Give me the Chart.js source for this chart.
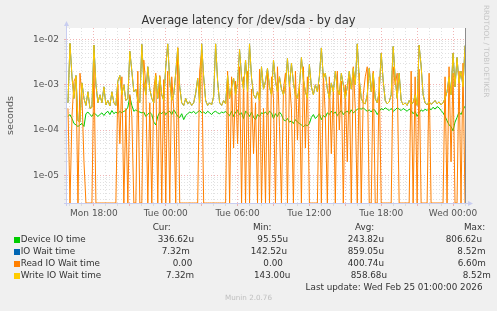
<!DOCTYPE html>
<html><head><meta charset="utf-8">
<script src="https://cdn.jsdelivr.net/npm/chart.js@4/dist/chart.umd.min.js"></script>
<style>
html,body{margin:0;padding:0;background:#f0f0f0;}
#wrap{position:relative;width:497px;height:311px;overflow:hidden;font-family:"DejaVu Sans",sans-serif;}
#c{position:absolute;left:0;top:0;}
.t{position:absolute;white-space:pre;color:#333;font-size:8.8px;line-height:10px;}
.sq{position:absolute;width:6px;height:6px;}
#title{position:absolute;left:0;width:497px;top:13px;text-align:center;font-size:11.4px;line-height:14px;color:#333;}
#munin{position:absolute;left:0;width:497px;top:293px;text-align:center;font-size:7.2px;line-height:10px;color:#c0c0c0;}
#rrd{position:absolute;left:490px;top:5px;font-size:7.2px;line-height:8px;color:#c4c4c4;transform-origin:0 0;transform:rotate(90deg);white-space:pre;}
</style></head><body>
<div id="wrap">
<canvas id="c" width="497" height="311"></canvas>
<div id="title">Average latency for /dev/sda - by day</div>
<div id="rrd">RRDTOOL / TOBI OETIKER</div>
<div id="munin">Munin 2.0.76</div>
</div>
<script>
// ---- data (seconds), one point every 10 minutes from Mon 15:50 to Wed 01:00 ----
const startHour = 15 + 50 / 60;   // hours since Mon 00:00
const stepHours = 10 / 60;

const deviceIO = [
2.0e-4,2.2e-4,1.8e-4,1.4e-4,1.3e-4,1.2e-4,1.3e-4,1.4e-4,1.2e-4,2.3e-4,
2.5e-4,2.2e-4,2.0e-4,2.4e-4,2.2e-4,2.0e-4,2.2e-4,2.4e-4,2.1e-4,2.4e-4,
2.6e-4,2.2e-4,2.7e-4,2.3e-4,2.5e-4,2.3e-4,2.6e-4,2.4e-4,2.6e-4,2.7e-4,
3.2e-4,5.5e-4,3.5e-4,2.6e-4,2.8e-4,2.6e-4,2.5e-4,2.4e-4,2.5e-4,2.0e-4,
2.2e-4,2.5e-4,2.2e-4,1.5e-4,1.3e-4,2.0e-4,2.5e-4,2.3e-4,2.6e-4,2.2e-4,
2.5e-4,2.6e-4,2.2e-4,2.8e-4,2.4e-4,2.0e-4,1.9e-4,2.3e-4,1.7e-4,2.1e-4,
2.3e-4,2.5e-4,2.4e-4,2.6e-4,2.3e-4,2.5e-4,2.7e-4,2.4e-4,2.5e-4,2.3e-4,
2.6e-4,2.4e-4,2.2e-4,2.5e-4,2.6e-4,2.4e-4,2.3e-4,2.5e-4,2.4e-4,2.6e-4,
2.3e-4,2.1e-4,2.6e-4,2.0e-4,2.5e-4,2.7e-4,2.2e-4,2.4e-4,1.8e-4,2.6e-4,
2.4e-4,2.0e-4,2.5e-4,1.9e-4,1.7e-4,2.2e-4,2.0e-4,2.4e-4,2.3e-4,2.5e-4,
2.2e-4,2.6e-4,2.4e-4,1.8e-4,2.3e-4,2.0e-4,2.5e-4,2.2e-4,1.7e-4,1.6e-4,
1.8e-4,1.5e-4,1.6e-4,1.4e-4,1.7e-4,1.5e-4,1.4e-4,1.3e-4,1.2e-4,1.3e-4,
1.25e-4,1.4e-4,1.9e-4,2.2e-4,1.8e-4,2.0e-4,2.3e-4,1.7e-4,2.1e-4,1.9e-4,
2.4e-4,2.2e-4,2.6e-4,2.3e-4,2.5e-4,2.1e-4,2.4e-4,2.7e-4,2.2e-4,2.5e-4,
2.6e-4,2.3e-4,2.8e-4,2.4e-4,2.6e-4,2.9e-4,3.0e-4,2.9e-4,3.1e-4,2.8e-4,
2.6e-4,2.8e-4,2.5e-4,2.9e-4,2.7e-4,2.2e-4,2.6e-4,3.0e-4,2.8e-4,3.1e-4,
2.9e-4,2.7e-4,3.0e-4,2.6e-4,2.8e-4,3.1e-4,2.9e-4,2.7e-4,3.0e-4,2.8e-4,
2.6e-4,2.9e-4,2.7e-4,2.3e-4,2.6e-4,2.0e-4,2.4e-4,2.8e-4,2.6e-4,2.9e-4,
2.7e-4,3.0e-4,2.8e-4,3.2e-4,2.9e-4,3.3e-4,3.1e-4,2.7e-4,2.4e-4,2.0e-4,
1.6e-4,1.3e-4,1.2e-4,9.6e-5,1.5e-4,1.9e-4,2.5e-4,2.2e-4,2.8e-4,3.37e-4
];

const writeWait = [
4.0e-4,8.2e-3,1.5e-3,5.0e-4,1.6e-3,1.6e-4,1.5e-4,1.1e-3,5.0e-4,3.5e-4,
7.0e-4,3.0e-4,3.2e-4,7.5e-3,1.0e-3,4.0e-4,6.0e-4,4.0e-4,9.0e-4,3.6e-4,
4.5e-4,3.4e-4,7.0e-4,4.0e-4,3.5e-4,1.2e-3,1.6e-3,6.0e-4,1.0e-3,4.5e-4,
5.0e-4,5.5e-3,2.0e-3,7.0e-4,8.0e-4,4.5e-4,4.0e-4,7.8e-3,1.2e-3,6.0e-4,
2.5e-3,8.0e-4,5.0e-4,4.0e-4,1.6e-3,5.0e-4,1.5e-3,6.0e-4,4.5e-4,2.5e-3,
8.0e-3,1.2e-3,4.5e-4,6.0e-4,1.8e-3,6.5e-3,9.0e-4,4.0e-4,3.5e-4,5.0e-4,
3.8e-4,4.2e-4,3.5e-4,4.0e-4,6.5e-4,1.4e-3,4.0e-4,8.0e-3,1.5e-3,4.5e-4,
3.5e-4,4.0e-4,3.6e-4,5.5e-4,8.0e-3,1.2e-3,4.0e-4,3.5e-4,4.5e-4,3.8e-4,
1.6e-3,5.0e-4,9.0e-4,1.4e-3,6.0e-4,1.1e-3,6.0e-3,1.5e-3,8.0e-4,3.5e-3,
7.0e-4,8.0e-3,1.4e-3,6.0e-4,5.0e-4,7.0e-4,4.5e-4,2.5e-3,8.0e-4,1.2e-3,
2.3e-3,9.0e-4,6.0e-4,3.5e-3,1.2e-3,7.0e-4,1.5e-3,8.0e-4,6.0e-4,1.0e-3,
3.8e-3,9.0e-4,3.0e-3,1.1e-3,6.0e-4,5.0e-4,9.0e-4,4.0e-3,1.3e-3,7.0e-4,
5.0e-4,2.8e-3,9.0e-4,6.0e-4,1.0e-3,7.0e-4,1.5e-3,6.5e-3,1.4e-3,1.8e-3,
8.0e-4,5.0e-4,1.1e-3,7.0e-4,2.0e-3,8.0e-4,6.0e-4,1.8e-3,1.0e-3,5.0e-4,
9.0e-4,2.0e-3,8.0e-4,2.3e-3,1.0e-3,8.0e-3,1.3e-3,5.0e-4,4.0e-4,3.8e-4,
6.0e-4,2.3e-3,7.0e-4,1.8e-3,5.0e-4,4.0e-4,7.0e-4,5.0e-3,1.2e-3,4.5e-4,
3.8e-4,4.2e-4,6.0e-4,7.0e-3,1.4e-3,5.0e-4,1.8e-3,4.5e-4,3.6e-4,4.0e-4,
3.5e-4,4.5e-4,3.8e-4,4.0e-4,6.0e-4,3.5e-4,7.5e-3,2.6e-3,6.0e-4,4.0e-4,
3.6e-4,4.2e-4,3.7e-4,4.0e-4,4.5e-4,3.8e-4,4.2e-4,3.6e-4,4.0e-4,5.0e-4,
7.0e-4,1.5e-3,6.0e-4,5.0e-3,9.0e-4,4.0e-3,1.1e-3,2.0e-3,9.0e-4,7.32e-3
];

const ioWait = [
4.0e-4,8.2e-3,1.5e-3,5.0e-4,1.6e-3,1.6e-4,1.5e-4,1.1e-3,5.0e-4,3.5e-4,
7.0e-4,3.0e-4,3.2e-4,7.5e-3,1.0e-3,4.0e-4,6.0e-4,4.0e-4,9.0e-4,3.6e-4,
4.5e-4,3.4e-4,7.0e-4,4.0e-4,3.5e-4,1.2e-3,1.6e-3,6.0e-4,1.0e-3,4.5e-4,
5.0e-4,5.5e-3,2.0e-3,7.0e-4,8.0e-4,4.5e-4,4.0e-4,7.8e-3,1.2e-3,6.0e-4,
2.5e-3,8.0e-4,5.0e-4,4.0e-4,1.6e-3,5.0e-4,1.5e-3,6.0e-4,4.5e-4,2.5e-3,
8.0e-3,1.2e-3,4.5e-4,6.0e-4,1.8e-3,6.5e-3,9.0e-4,4.0e-4,3.5e-4,5.0e-4,
3.8e-4,4.2e-4,3.5e-4,4.0e-4,6.5e-4,1.4e-3,4.0e-4,8.0e-3,1.5e-3,4.5e-4,
3.5e-4,4.0e-4,3.6e-4,5.5e-4,8.0e-3,1.2e-3,4.0e-4,3.5e-4,4.5e-4,3.8e-4,
1.6e-3,5.0e-4,9.0e-4,1.4e-3,6.0e-4,1.1e-3,6.0e-3,1.5e-3,8.0e-4,3.5e-3,
7.0e-4,8.0e-3,1.4e-3,6.0e-4,5.0e-4,7.0e-4,4.5e-4,2.5e-3,8.0e-4,1.2e-3,
2.3e-3,9.0e-4,6.0e-4,3.5e-3,1.2e-3,7.0e-4,1.5e-3,8.0e-4,6.0e-4,1.0e-3,
3.8e-3,9.0e-4,3.0e-3,1.1e-3,6.0e-4,5.0e-4,9.0e-4,4.0e-3,1.3e-3,7.0e-4,
5.0e-4,2.8e-3,9.0e-4,6.0e-4,1.0e-3,7.0e-4,1.5e-3,6.5e-3,1.4e-3,1.8e-3,
8.0e-4,5.0e-4,1.1e-3,7.0e-4,2.0e-3,8.0e-4,6.0e-4,1.8e-3,1.0e-3,5.0e-4,
9.0e-4,2.0e-3,8.0e-4,2.3e-3,1.0e-3,8.0e-3,1.3e-3,5.0e-4,4.0e-4,3.8e-4,
6.0e-4,2.3e-3,7.0e-4,1.8e-3,5.0e-4,4.0e-4,7.0e-4,5.0e-3,1.2e-3,4.5e-4,
3.8e-4,4.2e-4,6.0e-4,7.0e-3,1.4e-3,5.0e-4,1.8e-3,4.5e-4,3.6e-4,4.0e-4,
3.5e-4,4.5e-4,3.8e-4,4.0e-4,6.0e-4,3.5e-4,7.5e-3,2.6e-3,6.0e-4,4.0e-4,
3.6e-4,4.2e-4,3.7e-4,4.0e-4,4.5e-4,3.8e-4,4.2e-4,3.6e-4,4.0e-4,5.0e-4,
7.0e-4,1.5e-3,6.0e-4,5.0e-3,9.0e-4,4.0e-3,1.1e-3,2.0e-3,9.0e-4,7.32e-3
];

const readWait = [
3.0e-4,0,2.0e-4,1.2e-3,1.5e-3,0,1.8e-3,6.0e-4,2.0e-5,0,
0,0,0,3.0e-3,0,0,0,0,0,0,
0,0,0,0,0,1.0e-3,5.0e-5,1.5e-3,0,3.0e-4,
0,6.0e-4,2.0e-4,0,0,2.0e-3,0,0,3.5e-3,1.0e-3,
0,4.0e-4,0,8.0e-4,1.8e-3,0,1.6e-3,0,1.3e-3,0,
2.0e-3,0,1.5e-3,3.0e-4,0,6.6e-3,0,0,0,0,
0,0,0,0,0,0,2.0e-3,5.0e-3,0,0,
0,0,0,0,0,0,0,0,0,0,
2.0e-3,0,1.5e-3,4.0e-5,1.2e-3,5.0e-5,2.5e-3,0,1.5e-3,0,
2.0e-3,0,8.0e-4,3.0e-5,4.0e-4,0,2.2e-3,0,3.0e-4,0,
2.0e-3,0,1.5e-3,5.0e-4,0,2.5e-3,1.2e-4,0,8.0e-4,1.8e-3,
0,1.2e-3,3.0e-4,0,2.0e-3,6.0e-5,1.0e-3,0,2.5e-3,4.0e-5,
1.5e-3,0,0,0,0,0,1.0e-3,0,1.8e-3,2.0e-4,
0,1.5e-3,3.0e-5,9.0e-4,0,2.0e-3,1.0e-4,1.2e-3,0,1.0e-3,
2.0e-5,1.5e-3,0,2.5e-3,3.0e-4,0,1.8e-3,0,6.0e-4,1.5e-3,
2.5e-3,0,0,2.0e-3,0,0,1.5e-3,0,0,0,
0,0,0,2.5e-3,1.0e-3,1.8e-3,0,0,0,0,
0,0,2.0e-3,0,1.5e-3,0,2.2e-3,0,0,0,
0,1.8e-3,0,0,0,0,0,0,0,1.5e-3,
0,2.5e-3,2.0e-5,1.8e-3,0,0,2.0e-3,0,3.0e-3,0
];

const seriesNames = ['Device IO time', 'IO Wait time', 'Read IO Wait time', 'Write IO Wait time'];
const seriesColors = ['#00cc00', '#0066b3', '#ff8000', '#ffcc00'];
const curText = ['336.62u', '7.32m', '0.00', '7.32m'];
const minText = ['95.55u', '142.52u', '0.00', '143.00u'];
const avgText = ['243.82u', '859.05u', '400.74u', '858.68u'];
const maxText = ['806.62u', '8.52m', '6.60m', '8.52m'];
const columnHeads = ['Cur:', 'Min:', 'Avg:', 'Max:'];
const lastUpdate = 'Last update: Wed Feb 25 01:00:00 2026';

const xTickHours = [18, 24, 30, 36, 42, 48];
const xTickLabels = ['Mon 18:00', 'Tue 00:00', 'Tue 06:00', 'Tue 12:00', 'Tue 18:00', 'Wed 00:00'];
const yTickValues = [1e-5, 1e-4, 1e-3, 1e-2];
const yTickLabels = ['1e-05', '1e-04', '1e-03', '1e-02'];

// ---- scale bounds / styling ----
const X_MIN = 15.75, X_MAX = 49.083;
const Y_MIN = 2.46e-6, Y_MAX = 1.79e-2;
const MAJOR = 'rgba(235,150,150,0.7)';
const MINOR = 'rgba(205,205,205,0.6)';
const AXIS = '#c8cdf0';

function toPoints(arr) {
  // values of 0 sit on the floor of the log axis, as rrdtool draws them
  return arr.map((v, i) => ({ x: startHour + i * stepHours, y: v > 0 ? v : Y_MIN }));
}

const plotFrame = {
  id: 'plotFrame',
  beforeDraw(chart) {
    const { ctx, chartArea: a } = chart;
    ctx.save();
    ctx.fillStyle = '#ffffff';
    ctx.fillRect(a.left, a.top, a.right - a.left, a.bottom - a.top);
    ctx.restore();
  },
  afterDraw(chart) {
    const { ctx, chartArea: a } = chart;
    ctx.save();
    ctx.lineWidth = 1;
    ctx.strokeStyle = '#8c8c8c';
    ctx.beginPath(); ctx.moveTo(a.right - 0.5, a.top); ctx.lineTo(a.right - 0.5, a.bottom); ctx.stroke();
    ctx.strokeStyle = AXIS; ctx.fillStyle = AXIS;
    ctx.beginPath(); ctx.moveTo(a.left - 0.5, a.bottom + 3); ctx.lineTo(a.left - 0.5, a.top - 3); ctx.stroke();
    ctx.beginPath(); ctx.moveTo(a.left - 3, a.top - 2); ctx.lineTo(a.left + 2, a.top - 2); ctx.lineTo(a.left - 0.5, a.top - 7); ctx.closePath(); ctx.fill();
    ctx.beginPath(); ctx.moveTo(a.left - 3, a.bottom + 0.5); ctx.lineTo(a.right + 3, a.bottom + 0.5); ctx.stroke();
    ctx.beginPath(); ctx.moveTo(a.right + 2, a.bottom - 2); ctx.lineTo(a.right + 2, a.bottom + 3); ctx.lineTo(a.right + 7, a.bottom + 0.5); ctx.closePath(); ctx.fill();
    ctx.restore();
  }
};

function isDecade(v) { return yTickValues.some(t => Math.abs(v / t - 1) < 1e-6); }

const ds = (i, data, order) => ({
  label: seriesNames[i], data: toPoints(data), borderColor: seriesColors[i],
  borderWidth: 1, pointRadius: 0, tension: 0, fill: false, order
});

new Chart(document.getElementById('c'), {
  type: 'line',
  data: { datasets: [ds(0, deviceIO, 4), ds(1, ioWait, 3), ds(2, readWait, 2), ds(3, writeWait, 1)] },
  options: {
    responsive: false, animation: false, events: [],
    layout: { padding: { left: 0, right: 31, top: 28, bottom: 0 } },
    plugins: { legend: { display: false }, tooltip: { enabled: false }, title: { display: false } },
    scales: {
      x: {
        type: 'linear', min: X_MIN, max: X_MAX, bounds: 'data',
        afterFit(s) { s.height = 108; },
        afterBuildTicks(s) {
          const t = [];
          for (let h = 16; h <= 49; h++) t.push({ value: h });
          s.ticks = t;
        },
        grid: {
          color: c => (c.tick && c.tick.value % 3 === 0) ? MAJOR : MINOR,
          tickLength: 3, drawTicks: true, lineWidth: 1
        },
        border: { display: false, dash: [1, 2] },
        ticks: {
          autoSkip: false, maxRotation: 0, padding: 2, color: '#555',
          font: { family: 'DejaVu Sans', size: 9 },
          callback: v => { const k = xTickHours.indexOf(v); return k >= 0 ? xTickLabels[k] : ''; }
        }
      },
      y: {
        type: 'logarithmic', min: Y_MIN, max: Y_MAX, bounds: 'data',
        afterFit(s) { s.width = 67; },
        afterBuildTicks(s) {
          const t = [];
          for (let e = -6; e <= -2; e++) for (let m = 1; m <= 9; m++) {
            const v = m * Math.pow(10, e);
            if (v >= Y_MIN && v <= Y_MAX) t.push({ value: v });
          }
          s.ticks = t;
        },
        grid: {
          color: c => (c.tick && isDecade(c.tick.value)) ? MAJOR : MINOR,
          tickLength: 3, drawTicks: true, lineWidth: 1
        },
        border: { display: false, dash: [1, 2] },
        title: { display: true, text: 'seconds', color: '#555', font: { family: 'DejaVu Sans', size: 9.5 }, padding: { top: 5, bottom: 0 } },
        ticks: {
          autoSkip: false, padding: 5, color: '#555',
          font: { family: 'DejaVu Sans', size: 9 },
          callback: v => { const k = yTickValues.findIndex(t => Math.abs(v / t - 1) < 1e-6); return k >= 0 ? yTickLabels[k] : ''; }
        }
      }
    }
  },
  plugins: [plotFrame]
});

// ---- legend table (text) ----
const wrap = document.getElementById('wrap');
function addText(txt, left, cy, right) {
  const d = document.createElement('div');
  d.className = 't'; d.textContent = txt; d.style.top = (cy - 5) + 'px';
  if (right !== undefined) { d.style.right = (497 - right) + 'px'; } else { d.style.left = left + 'px'; }
  wrap.appendChild(d);
}
const headX = [152.7, 253, 355, 464];
columnHeads.forEach((h, k) => addText(h, headX[k], 227));
const rowY = [239.3, 251.2, 263.2, 275.2];
const colX = [
  [157.7, 257.3, 347.7, 445.7],
  [161.7, 250.7, 347.7, 457.3],
  [172.7, 263.3, 347.7, 457.7],
  [166.0, 254.0, 350.7, 462.7]
];
seriesNames.forEach((n, r) => {
  const sq = document.createElement('div');
  sq.className = 'sq'; sq.style.background = seriesColors[r];
  sq.style.left = '14px'; sq.style.top = (rowY[r] - 2.5) + 'px';
  wrap.appendChild(sq);
  addText(n, 20.7, rowY[r]);
  [curText, minText, avgText, maxText].forEach((col, k) => addText(col[r], colX[r][k], rowY[r]));
});
addText(lastUpdate, 0, 287.2, 482.5);
</script>
</body></html>
